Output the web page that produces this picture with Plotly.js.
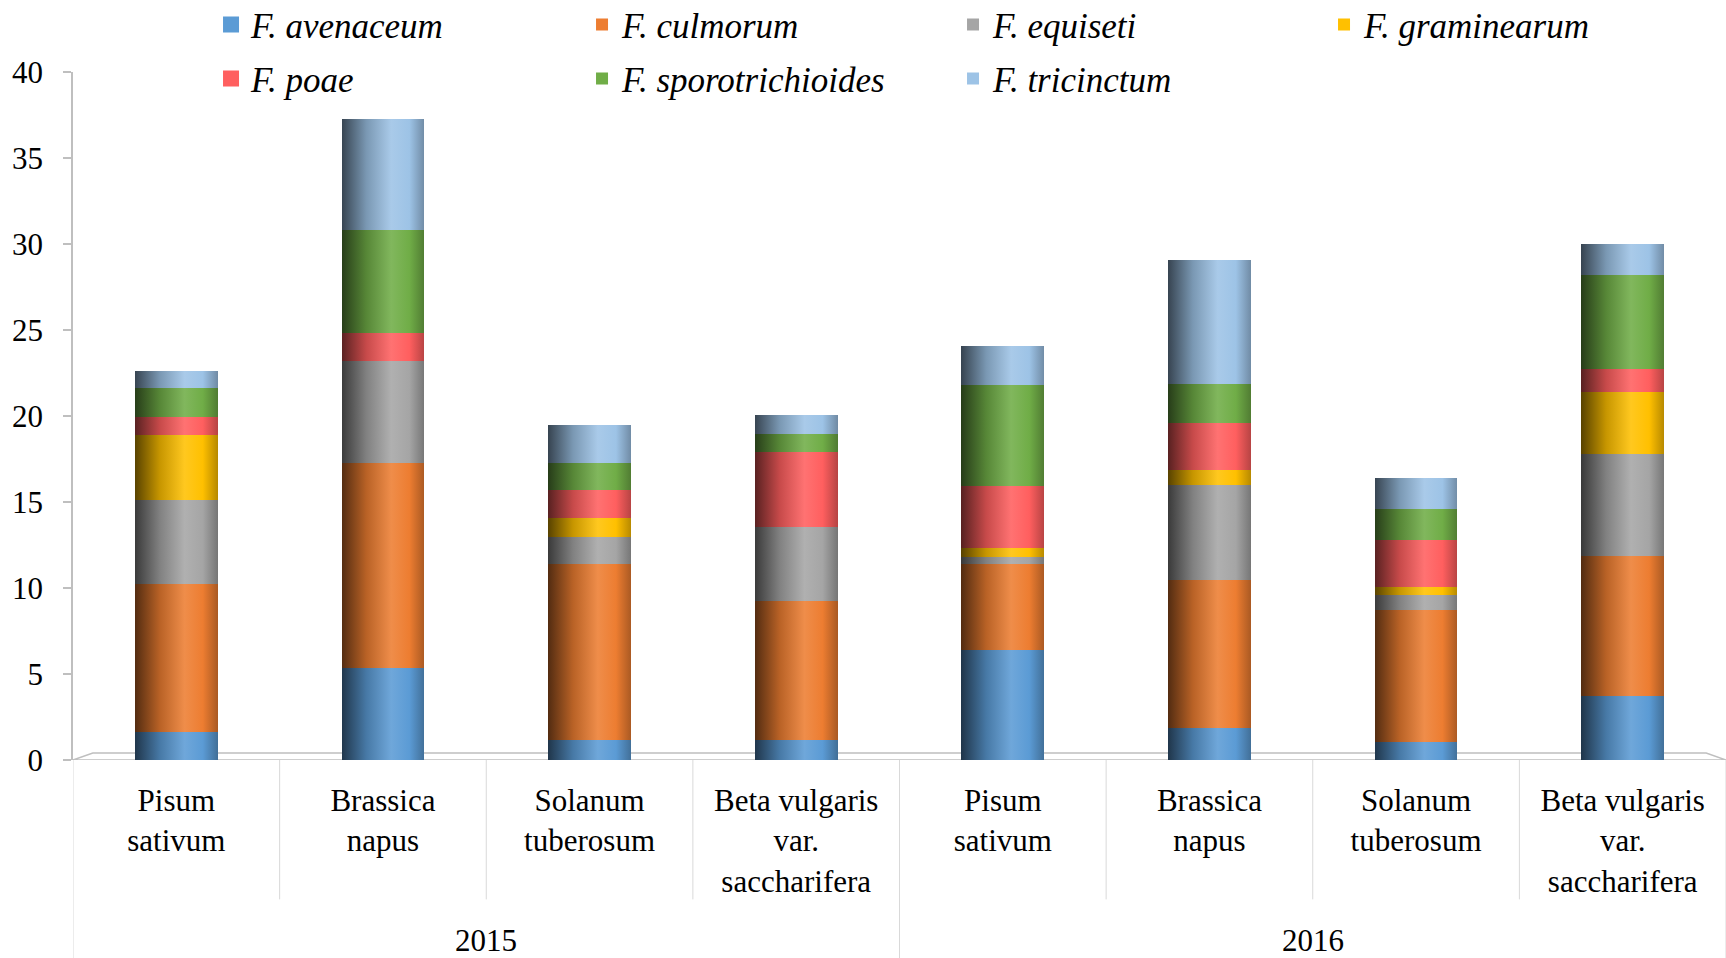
<!DOCTYPE html>
<html>
<head>
<meta charset="utf-8">
<script src="https://cdn.plot.ly/plotly-3.0.1.min.js"></script>
<style>
  html, body { margin: 0; padding: 0; background: #ffffff; }
  #chart { width: 1726px; height: 958px; }
</style>
</head>
<body>
<div id="chart"></div>
<script>
// ---- data ----
const years = ['2015', '2016'];
const crops = ['Pisum<br>sativum', 'Brassica<br>napus', 'Solanum<br>tuberosum', 'Beta vulgaris<br>var.<br>saccharifera'];
const seriesNames = ['F. avenaceum', 'F. culmorum', 'F. equiseti', 'F. graminearum',
                     'F. poae', 'F. sporotrichioides', 'F. tricinctum'];
const avenaceum        = [1.60, 5.35, 1.14, 1.14, 6.40, 1.86, 1.03, 3.74];
const culmorum         = [8.65, 11.90, 10.25, 8.10, 5.00, 8.61, 7.68, 8.14];
const equiseti         = [4.85, 5.95, 1.60, 4.30, 0.42, 5.51, 0.87, 5.91];
const graminearum      = [3.80, 0.00, 1.10, 0.00, 0.50, 0.86, 0.49, 3.61];
const poae             = [1.05, 1.60, 1.60, 4.34, 3.62, 2.74, 2.73, 1.36];
const sporotrichioides = [1.65, 6.00, 1.60, 1.09, 5.89, 2.26, 1.81, 5.44];
const tricinctum       = [1.00, 6.45, 2.20, 1.06, 2.24, 7.25, 1.80, 1.79];
const seriesValues = [avenaceum, culmorum, equiseti, graminearum, poae, sporotrichioides, tricinctum];
const colors = ['#5B9BD5', '#ED7D31', '#A5A5A5', '#FFC000', '#FF5F5F', '#70AD47', '#9DC3E6'];

// ---- build x positions from the category arrays ----
const tickLabels = [];
years.forEach(() => crops.forEach(c => tickLabels.push(c)));
const xPos = tickLabels.map((_, i) => i);

const FONT = 'Liberation Serif, Times New Roman, serif';
const legendIds = ['legend', 'legend2', 'legend3', 'legend4'];

const traces = seriesValues.map((vals, k) => ({
  type: 'bar',
  name: seriesNames[k],
  x: xPos,
  y: vals,
  width: 0.4,
  marker: { color: colors[k], line: { width: 0 } },
  legend: legendIds[k % 4],
  legendgroup: 'g' + k,
  hoverinfo: 'name+y'
}));

// dividers below the axis
const shapes = [];
const nPerYear = crops.length;
for (let i = 0; i <= tickLabels.length; i++) {
  const isYear = (i % nPerYear === 0);
  shapes.push({
    type: 'line', xref: 'x', yref: 'paper',
    x0: i - 0.5, x1: i - 0.5, y0: 0, y1: isYear ? -0.29 : -0.2026,
    line: { color: '#D9D9D9', width: 1 }, layer: 'below'
  });
}
// 3-D floor
shapes.push({
  type: 'path', xref: 'paper', yref: 'y', layer: 'below',
  path: 'M 0,0 L 0.012,0.4 L 0.988,0.4 L 1,0 Z',
  fillcolor: '#FFFFFF', line: { color: '#BFBFBF', width: 1.5 }
});

const annotations = years.map((yr, j) => ({
  text: yr, xref: 'x', yref: 'paper',
  x: j * nPerYear + (nPerYear - 1) / 2, y: -0.2624,
  xanchor: 'center', yanchor: 'middle', showarrow: false,
  font: { family: FONT, size: 31, color: '#000000' }
}));

const colStep = 371 / 1653;
function legendAt(col) {
  return {
    orientation: 'v', xanchor: 'left', yanchor: 'top',
    xref: 'paper', yref: 'paper',
    x: 0.0835 + col * colStep, y: 1.1114,
    itemwidth: 30, itemclick: false, itemdoubleclick: false,
    tracegroupgap: 5.5,
    bgcolor: 'rgba(0,0,0,0)', borderwidth: 0,
    font: { family: FONT, size: 35, color: '#000000', style: 'italic' },
    traceorder: 'grouped'
  };
}

const layout = {
  width: 1726, height: 958,
  margin: { l: 73, r: 0, t: 71.5, b: 198.4, pad: 0, autoexpand: false },
  paper_bgcolor: '#FFFFFF', plot_bgcolor: 'rgba(0,0,0,0)',
  barmode: 'stack',
  font: { family: FONT, size: 31, color: '#000000' },
  xaxis: {
    range: [-0.5, tickLabels.length - 0.5],
    tickmode: 'array', tickvals: xPos, ticktext: tickLabels,
    showline: false, showgrid: false, zeroline: false, ticks: '',
    tickfont: { family: FONT, size: 31, color: '#000000' },
    ticklabelstandoff: 19, fixedrange: true, automargin: false
  },
  yaxis: {
    range: [0, 40], dtick: 5, tick0: 0,
    showline: true, linecolor: '#BFBFBF', linewidth: 1.5,
    ticks: 'outside', ticklen: 8, tickcolor: '#BFBFBF', tickwidth: 1.5,
    showgrid: false, zeroline: false,
    tickfont: { family: FONT, size: 31, color: '#000000' },
    ticklabelstandoff: 14, fixedrange: true, automargin: false
  },
  legend: legendAt(0),
  legend2: legendAt(1),
  legend3: legendAt(2),
  legend4: legendAt(3),
  shapes: shapes,
  annotations: annotations,
  showlegend: true
};

function shade(hex, f) {
  const n = parseInt(hex.slice(1), 16);
  let r = (n >> 16) & 255, g = (n >> 8) & 255, b = n & 255;
  if (f <= 1) { r *= f; g *= f; b *= f; }
  else { const t = f - 1; r += (255 - r) * t; g += (255 - g) * t; b += (255 - b) * t; }
  const h = v => Math.round(Math.max(0, Math.min(255, v))).toString(16).padStart(2, '0');
  return '#' + h(r) + h(g) + h(b);
}

function addCylinders(gd) {
  const svg = gd.querySelector('svg.main-svg');
  const NS = 'http://www.w3.org/2000/svg';
  let defs = svg.querySelector('defs');
  if (!defs) { defs = document.createElementNS(NS, 'defs'); svg.insertBefore(defs, svg.firstChild); }
  colors.forEach((c, k) => {
    const g = document.createElementNS(NS, 'linearGradient');
    g.setAttribute('id', 'cyl' + k);
    g.setAttribute('x1', '0'); g.setAttribute('y1', '0');
    g.setAttribute('x2', '1'); g.setAttribute('y2', '0');
    const stops = [[0, shade(c, 0.35)], [0.3, shade(c, 0.78)], [0.6, shade(c, 1.12)], [0.82, c], [1, shade(c, 0.72)]];
    stops.forEach(([o, col]) => {
      const s = document.createElementNS(NS, 'stop');
      s.setAttribute('offset', o);
      s.setAttribute('stop-color', col);
      g.appendChild(s);
    });
    defs.appendChild(g);
  });
  const traceGroups = gd.querySelectorAll('.barlayer .trace');
  traceGroups.forEach((tg, k) => {
    tg.querySelectorAll('path').forEach(p => { p.style.fill = 'url(#cyl' + k + ')'; });
  });
  // larger square legend symbols, as in the reference
  gd.querySelectorAll('.legend .legendpoints path').forEach(p => {
    p.setAttribute('d', 'M8,8H-8V-8H8Z');
  });
}

Plotly.newPlot('chart', traces, layout, { displayModeBar: false })
  .then(addCylinders);
</script>
</body>
</html>
